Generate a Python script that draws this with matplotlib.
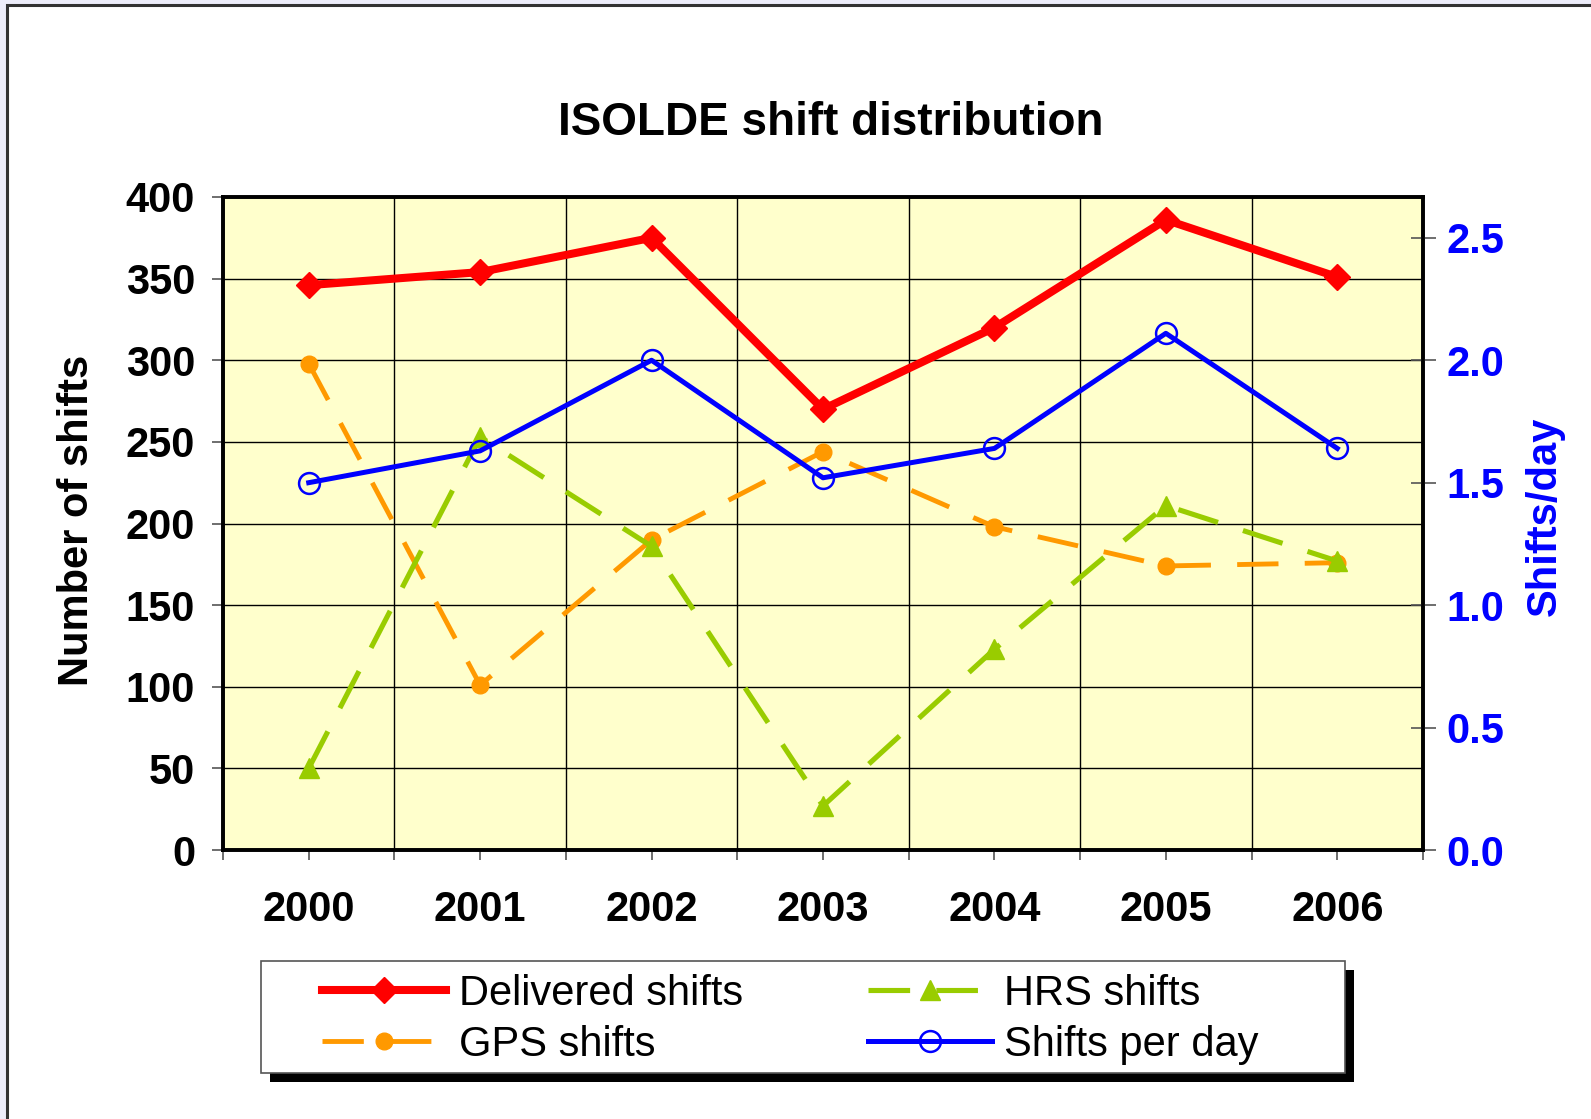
import matplotlib
matplotlib.use("Agg")
import matplotlib.pyplot as plt
from matplotlib.patches import Rectangle
import numpy as np

years = ["2000", "2001", "2002", "2003", "2004", "2005", "2006"]
delivered = [346, 354, 375, 270, 320, 386, 351]
gps = [298, 101, 190, 244, 198, 174, 176]
hrs = [50, 253, 186, 27, 123, 211, 177]
per_day = [1.50, 1.63, 2.00, 1.52, 1.64, 2.11, 1.64]
left_ticks = [0, 50, 100, 150, 200, 250, 300, 350, 400]
right_ticks = [0.0, 0.5, 1.0, 1.5, 2.0, 2.5]

W, H = 1591, 1119
DPI = 100
plt.rcParams['font.family'] = ['Liberation Sans', 'DejaVu Sans']

fig = plt.figure(figsize=(W / DPI, H / DPI), dpi=DPI)
fig.patch.set_facecolor('#EDEDFA')

def fx(px):
    return px / W

def fy(py):
    return 1 - py / H

# white chart area with border (extends past right/bottom edges)
fig.patches.append(Rectangle((fx(7), -0.05), 1.1, fy(5) + 0.05, transform=fig.transFigure,
                             facecolor='white', edgecolor='#333333', linewidth=2.2, zorder=-10))

x0, x1, y0, y1 = 223, 1423, 197, 850
ax = fig.add_axes([fx(x0), fy(y1), fx(x1 - x0), (y1 - y0) / H])
ax.set_facecolor('#FFFFCC')
x = np.arange(len(years))
ax.set_xlim(-0.5, len(years) - 0.5)
ax.set_ylim(0, 400)

ax.set_yticks(left_ticks)
ax.set_xticks(x)
ax.set_xticklabels(years)
ax.set_xticks(np.arange(-0.5, len(years), 1.0), minor=True)
ax.grid(axis='y', which='major', color='black', linewidth=1.0)
ax.grid(axis='x', which='minor', color='black', linewidth=1.0)
ax.set_axisbelow(True)

for s in ax.spines.values():
    s.set_linewidth(2.6)
    s.set_color('black')

ax.tick_params(axis='y', which='major', direction='out', length=8, width=1.2, color='#555555',
               labelsize=30, pad=12)
ax.tick_params(axis='x', which='major', direction='out', length=7, width=1.2, color='#555555',
               labelsize=30, pad=22)
ax.tick_params(axis='x', which='minor', direction='out', length=7, width=1.2, color='#555555')
for lab in ax.get_xticklabels() + ax.get_yticklabels():
    lab.set_fontweight('bold')

l_del, = ax.plot(x, delivered, color='#FF0000', linewidth=5.8, marker='D', markersize=13,
                 solid_joinstyle='miter', label='Delivered shifts', zorder=5)
l_gps, = ax.plot(x, gps, color='#FF9900', linewidth=3.5, dashes=(8.5, 5.4), marker='o',
                 markersize=12, label='GPS shifts', zorder=3)
l_hrs, = ax.plot(x, hrs, color='#99CC00', linewidth=3.7, dashes=(8.1, 5.1), marker='^',
                 markersize=14, label='HRS shifts', zorder=4)

ax2 = ax.twinx()
ax2.set_ylim(0, 400 / 150)
ax2.set_yticks(right_ticks)
ax2.set_yticklabels([f"{v:.1f}" for v in right_ticks])
ax2.tick_params(axis='y', direction='inout', length=18, width=1.2, color='#555555',
                labelsize=30, labelcolor='#0000FF', pad=8)
for lab in ax2.get_yticklabels():
    lab.set_fontweight('bold')
for s in ax2.spines.values():
    s.set_linewidth(2.6)
    s.set_color('black')
l_day, = ax2.plot(x, per_day, color='#0000FF', linewidth=3.6, marker='o', markersize=15,
                  markerfacecolor='none', markeredgecolor='#0000FF', markeredgewidth=1.8,
                  label='Shifts per day', zorder=5)

# titles and axis labels
fig.text(fx(831), fy(123), 'ISOLDE shift distribution', ha='center', va='center',
         fontsize=33, fontweight='bold')
fig.text(fx(77), fy(520), 'Number of shifts', ha='center', va='center', rotation=90,
         fontsize=30, fontweight='bold')
fig.text(fx(1545), fy(516), 'Shifts/day', ha='center', va='center', rotation=90,
         fontsize=30, fontweight='bold', color='#0000FF')

# legend frame with shadow
lx0, ly0, lx1, ly1 = 261, 961, 1345, 1073
fig.patches.append(Rectangle((fx(lx0 + 9), fy(ly1 + 9)), fx(lx1 - lx0), (ly1 - ly0) / H,
                             transform=fig.transFigure, facecolor='black', edgecolor='none', zorder=3))
fig.patches.append(Rectangle((fx(lx0), fy(ly1)), fx(lx1 - lx0), (ly1 - ly0) / H,
                             transform=fig.transFigure, facecolor='white', edgecolor='#555555',
                             linewidth=1.2, zorder=3.5))

leg = fig.legend(handles=[l_del, l_gps, l_hrs, l_day], ncol=2, loc='upper left',
                 bbox_to_anchor=(fx(322), fy(974)), bbox_transform=fig.transFigure,
                 frameon=False, fontsize=30, handlelength=2.97, handletextpad=0.31,
                 columnspacing=3.0, labelspacing=0.26, borderpad=0, borderaxespad=0)
leg.set_zorder(6)

fig.savefig('out.png', dpi=DPI, facecolor=fig.get_facecolor())
